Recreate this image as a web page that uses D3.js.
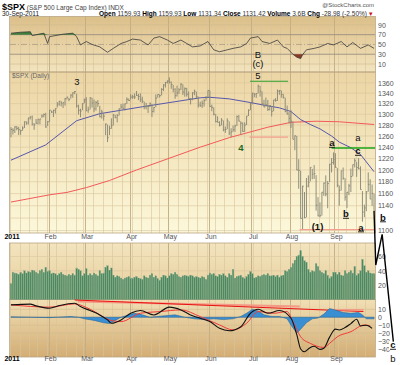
<!DOCTYPE html>
<html>
<head>
<meta charset="utf-8">
<script src="https://cdn.jsdelivr.net/npm/d3@7"></script>
<style>
body { margin: 0; background: #fff; }
svg text { font-family: "Liberation Sans", Arial, sans-serif; }
</style>
</head>
<body>
<div id="chart"></div>
<script>
// trading calendar
var monthNames = ["2011", "Feb", "Mar", "Apr", "May", "Jun", "Jul", "Aug", "Sep"];
var holidays = ["2011-01-17", "2011-02-21", "2011-04-22", "2011-05-30", "2011-07-04", "2011-09-05"];

// daily closes, highs, lows (Jan 3 - Sep 30 2011)
var closes = [
  1271.87,1270.20,1276.56,1273.85,1271.50,1269.75,1274.48,1285.96,1283.76,1293.24,1295.02,1281.92,1280.26,1283.35,1290.84,1291.18,1296.63,1299.54,1276.34,1286.12,
  1307.59,1304.03,1307.10,1310.87,1319.05,1324.57,1320.88,1321.87,1329.15,1332.32,1328.01,1336.32,1340.43,1343.01,1315.44,1307.40,1306.10,1319.88,1327.22,
  1306.33,1308.44,1330.97,1321.15,1310.13,1321.82,1320.02,1295.11,1304.28,1296.39,1281.87,1256.88,1273.72,1279.21,1298.38,1293.77,1297.54,1309.66,1313.80,1310.19,1319.44,1328.26,1325.83,
  1332.41,1332.87,1332.63,1335.54,1333.51,1328.17,1324.46,1314.16,1314.41,1314.52,1319.68,1305.14,1312.62,1330.36,1337.38,1335.25,1347.24,1355.66,1360.48,1363.61,
  1361.22,1356.62,1347.32,1335.10,1340.20,1346.29,1357.16,1342.08,1348.65,1337.77,1329.47,1328.98,1340.68,1343.60,1333.27,1317.37,1316.28,1320.47,1325.69,1331.10,1345.20,
  1314.55,1312.94,1300.16,1286.17,1284.94,1279.56,1289.00,1270.98,1271.83,1287.87,1265.42,1267.64,1271.50,1278.36,1295.52,1287.14,1283.50,1268.45,1280.10,1296.67,1307.41,1320.64,
  1339.67,1337.88,1339.22,1353.22,1343.80,1319.49,1313.64,1317.72,1308.87,1316.14,1305.44,1326.73,1325.84,1343.80,1345.02,1337.43,1331.94,1304.89,1300.67,1292.28,
  1286.94,1254.05,1260.34,1200.07,1199.38,1119.46,1172.53,1120.76,1172.64,1178.81,1204.49,1192.76,1193.89,1140.65,1123.53,1123.82,1162.35,1177.60,1159.27,1176.80,1210.08,1212.92,1218.89,
  1204.42,1173.97,1165.24,1198.62,1185.90,1154.23,1162.27,1172.87,1188.68,1209.11,1216.01,1204.09,1202.09,1166.76,1129.56,1136.43,1162.95,1175.38,1151.06,1160.40,1131.42
];
var highs = [
  1276.2,1274.1,1277.6,1278.2,1276.8,1271.5,1277.6,1286.6,1286.7,1293.3,1296.1,1297.5,1283.3,1291.0,1291.3,1291.3,1299.7,1301.3,1302.7,1287.2,
  1308.0,1306.7,1308.6,1311.0,1322.9,1324.9,1324.6,1322.0,1330.8,1332.9,1330.6,1337.6,1341.5,1344.1,1338.9,1317.9,1310.3,1320.6,1329.4,
  1332.3,1314.4,1332.3,1331.1,1327.7,1325.0,1326.8,1315.7,1308.3,1301.5,1282.8,1280.9,1278.7,1292.4,1300.6,1298.8,1300.2,1311.3,1319.2,1320.0,1320.1,1331.7,1329.8,
  1337.9,1336.7,1339.5,1344.1,1338.8,1339.5,1333.2,1323.7,1321.4,1316.8,1322.2,1319.1,1313.8,1337.5,1337.5,1337.6,1349.6,1357.3,1361.7,1364.6,
  1370.6,1362.6,1355.7,1349.6,1354.4,1349.4,1359.4,1357.2,1351.1,1350.2,1343.3,1330.4,1341.6,1346.8,1342.8,1333.3,1323.7,1325.9,1328.5,1334.6,1345.4,
  1345.2,1318.0,1312.9,1300.3,1296.2,1287.0,1292.7,1288.3,1277.3,1292.5,1286.8,1274.1,1279.0,1280.4,1297.6,1298.6,1286.8,1284.9,1284.9,1296.7,1309.2,1321.9,
  1341.0,1340.0,1340.1,1356.5,1354.0,1343.3,1327.2,1331.5,1327.0,1317.2,1315.5,1327.2,1330.4,1347.0,1346.1,1344.9,1338.5,1331.2,1316.3,1304.0,
  1307.4,1286.6,1261.0,1260.1,1218.7,1198.7,1172.9,1162.6,1186.3,1190.7,1204.5,1201.9,1208.5,1191.1,1154.1,1145.5,1162.4,1178.5,1190.7,1181.2,1210.3,1220.7,1230.7,
  1229.3,1203.3,1173.5,1198.7,1204.2,1185.9,1162.6,1176.4,1202.4,1209.2,1220.1,1213.9,1220.4,1206.3,1164.2,1141.7,1164.2,1195.9,1184.2,1175.3,1159.9
];
var lows = [
  1257.6,1262.7,1265.4,1270.4,1261.7,1262.2,1269.6,1274.5,1280.5,1281.1,1290.2,1279.0,1271.3,1282.1,1281.1,1281.1,1293.2,1294.4,1275.1,1278.2,
  1286.2,1302.6,1294.8,1301.4,1312.8,1316.0,1314.9,1311.7,1316.1,1328.0,1324.6,1329.5,1331.1,1338.1,1312.3,1299.3,1294.3,1307.6,1320.6,
  1305.9,1302.6,1309.1,1312.6,1303.9,1306.9,1314.0,1294.3,1291.9,1288.1,1261.6,1249.1,1261.6,1273.2,1279.2,1292.6,1284.8,1297.7,1309.8,1309.4,1306.9,1319.4,1325.0,
  1328.1,1329.1,1328.7,1334.5,1326.6,1322.9,1321.1,1309.4,1309.2,1302.4,1313.6,1294.7,1303.2,1313.4,1331.2,1331.5,1335.7,1344.0,1350.9,1358.7,
  1358.6,1348.3,1341.5,1329.2,1333.4,1338.6,1346.2,1336.4,1333.2,1333.3,1327.3,1318.5,1326.3,1336.1,1330.1,1312.6,1313.9,1311.8,1314.3,1325.7,1331.5,
  1313.7,1305.6,1297.9,1284.9,1284.7,1277.4,1279.6,1268.6,1265.6,1272.5,1261.9,1258.1,1267.6,1267.6,1278.4,1286.8,1262.7,1267.5,1267.5,1280.1,1296.7,1307.6,
  1318.5,1332.0,1330.9,1339.6,1333.4,1316.4,1313.3,1314.6,1306.1,1307.1,1295.9,1305.6,1323.7,1325.1,1336.9,1331.1,1329.6,1303.9,1299.2,1282.9,
  1274.7,1254.0,1234.6,1199.5,1168.1,1119.3,1101.5,1119.6,1121.1,1170.5,1180.5,1184.1,1184.7,1132.0,1122.7,1121.1,1124.0,1156.3,1155.5,1135.9,1179.4,1195.8,1209.4,
  1203.9,1170.6,1140.1,1165.3,1183.3,1148.4,1136.1,1157.4,1162.7,1189.1,1204.5,1188.2,1201.3,1166.7,1114.2,1121.4,1131.1,1163.1,1150.9,1139.8,1131.3
];
// volume, 100M shares
var volumes = [
  22,38,37,36,35,38,36,40,37,39,38,41,40,38,36,40,42,38,45,39,
  40,36,37,36,34,36,38,35,34,33,35,34,36,34,44,42,40,33,36,
  43,34,36,34,37,35,33,40,36,37,45,47,41,44,34,31,33,32,30,28,30,31,32,
  30,29,31,32,30,29,28,33,31,30,34,36,31,33,29,27,31,34,33,30,
  33,36,35,38,35,32,31,33,34,33,32,34,33,31,32,31,30,32,31,28,34,
  37,35,36,33,32,35,34,36,33,31,36,34,42,30,32,33,34,31,29,32,35,39,
  36,30,31,33,32,34,35,34,36,33,33,34,32,34,31,33,34,40,39,42,
  45,50,55,60,62,68,60,54,52,42,38,40,39,50,46,40,38,36,40,34,30,32,38,
  38,35,38,34,33,40,36,38,40,37,46,34,36,40,56,47,38,40,37,36,36
];

// moving averages (day index, value)
var ma50Idx = [0, 18, 34, 46, 68, 98, 103, 113, 124, 134, 139, 145, 150, 155, 160, 166, 170, 176, 181, 188];
var ma50 = [1217, 1244, 1288, 1301, 1314, 1331, 1332, 1329, 1322, 1315, 1312, 1305, 1290, 1281, 1273, 1260, 1249, 1239, 1227, 1197];
var ma200Idx = [0, 20, 29, 39, 51, 65, 98, 113, 133, 145, 158, 170, 188];
var ma200 = [1146, 1158, 1162, 1170, 1182, 1200, 1240, 1257, 1276, 1285, 1287, 1286, 1281];

// RSI(14)
var rsiIdx = [0,5,10,11,17,19,20,27,32,34,36,39,42,46,50,53,57,60,63,67,71,74,77,81,84,88,91,94,98,102,105,108,112,115,119,122,124,128,130,134,138,141,143,146,148,150,151,153,157,160,164,167,171,174,177,181,185,188];
var rsi = [73,75,76,68,73,52,66,71,73,66,49,56,50,45,34,42,52,56,61,59,49,63,66,59,52,59,52,45,47,56,39,35,39,42,45,52,63,66,56,52,59,45,42,30,24,21,29,39,42,45,52,49,56,45,54,42,49,42];

// MACD(12,26,9)
var macdIdx = [0,10,13,20,25,33,36,41,46,50,52,57,62,67,74,82,88,93,98,103,108,113,119,124,128,133,139,145,148,150,152,155,157,160,162,165,168,170,173,176,179,181,184,187];
var macd = [15.6,16.5,14.3,11.4,14.7,17.7,13.4,8.4,2.9,-3.4,-7.6,-3.4,5,8.4,2.9,12.7,9.2,2.9,-1.3,-5.5,-14,-17,-11.9,5,10.1,5,8.4,-1.3,-22,-40,-43.5,-38,-36.5,-40.5,-39,-25,-15,-16,-13,-8,-2.5,-11,-10,-14];
var signalIdx = [0,20,33,41,51,57,67,77,88,98,108,115,122,128,136,143,146,150,155,162,165,169,176,183,186];
var signal = [15.6,12.7,16.8,10.1,-3.4,-5.5,5,7.1,9.2,0.8,-9.7,-16,-7.6,7.1,5,7.1,-5.5,-24.6,-32.9,-38,-32.9,-24.6,-18.2,-9.7,-11];
var histIdx = [0,20,31,35,38,43,48,51,54,57,61,64,68,72,80,85,90,95,100,105,110,115,119,122,125,128,131,135,139,143,145,148,150,153,156,159,162,165,168,172,176,180,182,184,188];
var hist = [0.5,-0.5,1,0,-2,-4,-7,-8,-4,0,3,5,3,0,2,3,0,-2,-3,-2,-3,-2,1,5,10,8,3,1,1,-2,-10,-20,-15,-7,-2,-1,4,11,9,6,5,6,3,-2,-2];

// analyst's projected path beyond the last bar (day index, price)
var projIdx = [188.5, 189.4, 192.7, 198.5];
var projPrice = [1131.4, 1047, 1094, 938];

var priceTicks = [1360, 1340, 1320, 1300, 1280, 1260, 1240, 1220, 1200, 1180, 1160, 1140, 1100];
var rsiTicks = [90, 70, 50, 30, 10];
var volTicks = [60, 40, 20];
var macdTicks = [10, 0, -10, -20, -30, -40];

// build the trading days
var days = [];
for (var t = Date.UTC(2011, 0, 3); t <= Date.UTC(2011, 8, 30); t += 864e5) {
  var dd = new Date(t);
  var wd = dd.getUTCDay();
  if (wd > 0 && wd < 6 && holidays.indexOf(dd.toISOString().slice(0, 10)) < 0) days.push(dd);
}
var monthStarts = [], weekStarts = [];
days.forEach(function (d, i) {
  if (i === 0 || d.getUTCMonth() !== days[i - 1].getUTCMonth()) monthStarts.push(i);
  if (i === 0 || d.getUTCDay() < days[i - 1].getUTCDay()) weekStarts.push(i);
});

var svg = d3.select("#chart").append("svg")
  .attr("width", 400)
  .attr("height", 365);

var L = 10, R = 375;
var x = d3.scaleLinear().domain([0, days.length]).range([L, R]);
var yP = d3.scaleLog().domain([1100, 1360]).range([230.6, 82.8]);
var yR = d3.scaleLinear().domain([10, 90]).range([64, 24.9]);
var yV = d3.scaleLinear().domain([0, 60]).range([299.5, 256.5]);
var yM = d3.scaleLinear().domain([-40, 10]).range([349, 309.3]);

var panels = [
  { id: "rsiBg", top: 16.5, bottom: 72, c0: "#dcbf88", c1: "#f3e4bf" },
  { id: "priceBg", top: 72, bottom: 233, c0: "#ecd5a4", c1: "#fcf8da" },
  { id: "volBg", top: 243, bottom: 299.5, c0: "#f3e4bf", c1: "#e6cd9a" },
  { id: "macdBg", top: 299.5, bottom: 357, c0: "#f1dfb4", c1: "#d3ad74" }
];

var defs = svg.append("defs");
panels.forEach(function (p) {
  var g = defs.append("linearGradient").attr("id", p.id)
    .attr("x1", 0).attr("y1", 0).attr("x2", 0).attr("y2", 1);
  g.append("stop").attr("offset", "0%").attr("stop-color", p.c0);
  g.append("stop").attr("offset", "100%").attr("stop-color", p.c1);
  svg.append("rect")
    .attr("x", L).attr("y", p.top)
    .attr("width", R - L).attr("height", p.bottom - p.top)
    .attr("fill", "url(#" + p.id + ")");
});

// vertical grid for each panel
panels.forEach(function (p) {
  svg.append("g").selectAll("line")
    .data(weekStarts)
    .enter().append("line")
    .attr("x1", d => Math.round(x(d)) + 0.5).attr("x2", d => Math.round(x(d)) + 0.5)
    .attr("y1", p.top).attr("y2", p.bottom)
    .attr("stroke", monthStarts.indexOf(0) >= 0 ? "#d9c59c" : "#d9c59c")
    .attr("stroke-width", 0.6);
  svg.append("g").selectAll("line")
    .data(monthStarts.slice(1))
    .enter().append("line")
    .attr("x1", d => Math.round(x(d)) + 0.5).attr("x2", d => Math.round(x(d)) + 0.5)
    .attr("y1", p.top).attr("y2", p.bottom)
    .attr("stroke", "#c2ab82")
    .attr("stroke-width", 0.9);
});

// horizontal grids
svg.append("g").selectAll("line")
  .data(d3.range(1100, 1361, 20))
  .enter().append("line")
  .attr("x1", L).attr("x2", R)
  .attr("y1", d => yP(d)).attr("y2", d => yP(d))
  .attr("stroke", "#d8c49c").attr("stroke-width", 0.6);
svg.append("g").selectAll("line")
  .data([90, 10])
  .enter().append("line")
  .attr("x1", L).attr("x2", R)
  .attr("y1", d => yR(d)).attr("y2", d => yR(d))
  .attr("stroke", "#cfb98f").attr("stroke-width", 0.6);
svg.append("g").selectAll("line")
  .data([70, 30])
  .enter().append("line")
  .attr("x1", L).attr("x2", R)
  .attr("y1", d => yR(d)).attr("y2", d => yR(d))
  .attr("stroke", "#9a9080").attr("stroke-width", 0.9);
svg.append("line")
  .attr("x1", L).attr("x2", R)
  .attr("y1", yR(50)).attr("y2", yR(50))
  .attr("stroke", "#a09682").attr("stroke-width", 0.7)
  .attr("stroke-dasharray", "6,2,1,2");
svg.append("g").selectAll("line")
  .data(volTicks)
  .enter().append("line")
  .attr("x1", L).attr("x2", R)
  .attr("y1", d => yV(d)).attr("y2", d => yV(d))
  .attr("stroke", "#dbc79f").attr("stroke-width", 0.6);
svg.append("g").selectAll("line")
  .data(macdTicks)
  .enter().append("line")
  .attr("x1", L).attr("x2", R)
  .attr("y1", d => yM(d)).attr("y2", d => yM(d))
  .attr("stroke", "#d2bb8f").attr("stroke-width", 0.6);

// panel borders
panels.forEach(function (p) {
  svg.append("rect")
    .attr("x", L - 0.5).attr("y", p.top)
    .attr("width", R - L + 1).attr("height", p.bottom - p.top)
    .attr("fill", "none").attr("stroke", "#b9a683").attr("stroke-width", 0.8);
});

// RSI
var rsiPts = rsiIdx.map((d, i) => [d, rsi[i]]);
svg.append("path")
  .datum(rsiPts)
  .attr("fill", "#3f7f3a")
  .attr("d", d3.area().x(d => x(d[0] + 0.5)).y0(yR(70)).y1(d => yR(Math.max(d[1], 70))));
svg.append("path")
  .datum(rsiPts)
  .attr("fill", "#8a3b26")
  .attr("d", d3.area().x(d => x(d[0] + 0.5)).y0(yR(30)).y1(d => yR(Math.min(d[1], 30))));
svg.append("path")
  .datum(rsiPts)
  .attr("fill", "none").attr("stroke", "#3a3a3a").attr("stroke-width", 0.8)
  .attr("d", d3.line().x(d => x(d[0] + 0.5)).y(d => yR(d[1])));

// Price panel: moving averages
svg.append("path")
  .datum(ma200Idx.map((d, i) => [d, ma200[i]]))
  .attr("fill", "none").attr("stroke", "#f25a5a").attr("stroke-width", 1)
  .attr("d", d3.line().x(d => x(d[0] + 0.5)).y(d => yP(d[1])));
svg.append("path")
  .datum(ma50Idx.map((d, i) => [d, ma50[i]]))
  .attr("fill", "none").attr("stroke", "#5757ac").attr("stroke-width", 1)
  .attr("d", d3.line().x(d => x(d[0] + 0.5)).y(d => yP(d[1])));

// annotation levels
var levels = [
  { a: 124, b: 144, p: 1258, c: "#f4a08e", w: 1.2 },
  { a: 150, b: 188.5, p: 1101.5, c: "#f4a08e", w: 1.2 },
  { a: 124.3, b: 144, p: 1363, c: "#2ca02c", w: 1.2 },
  { a: 166.5, b: 189, p: 1238.5, c: "#1aa51a", w: 1.4 }
];

// OHLC bars
var bars = svg.append("g");
bars.selectAll("line.hl")
  .data(closes)
  .enter().append("line")
  .attr("x1", (d, i) => x(i + 0.5)).attr("x2", (d, i) => x(i + 0.5))
  .attr("y1", (d, i) => yP(highs[i])).attr("y2", (d, i) => yP(lows[i]))
  .attr("stroke", "#858574").attr("stroke-width", 0.9);
bars.selectAll("line.c")
  .data(closes)
  .enter().append("line")
  .attr("x1", (d, i) => x(i + 0.5)).attr("x2", (d, i) => x(i + 0.5) + 1.2)
  .attr("y1", d => yP(d)).attr("y2", d => yP(d))
  .attr("stroke", "#858574").attr("stroke-width", 0.9);

svg.append("g").selectAll("line")
  .data(levels)
  .enter().append("line")
  .attr("x1", d => x(d.a)).attr("x2", d => x(d.b))
  .attr("y1", d => yP(d.p)).attr("y2", d => yP(d.p))
  .attr("stroke", d => d.c).attr("stroke-width", d => d.w);

// Volume
svg.append("g").selectAll("rect")
  .data(volumes)
  .enter().append("rect")
  .attr("x", (d, i) => x(i) + 0.2)
  .attr("width", 1.55)
  .attr("y", d => yV(d))
  .attr("height", d => yV(0) - yV(d))
  .attr("fill", "#4a8a60")
  .attr("stroke", "#7fa68a").attr("stroke-width", 0.3);

// MACD
svg.append("line")
  .attr("x1", x(35)).attr("x2", x(150))
  .attr("y1", 301.5).attr("y2", 306.5)
  .attr("stroke", "#f39a86").attr("stroke-width", 2);
svg.append("line")
  .attr("x1", x(33.5)).attr("x2", x(183))
  .attr("y1", 300).attr("y2", 311.5)
  .attr("stroke", "#e81010").attr("stroke-width", 1.2);
svg.append("line")
  .attr("x1", x(168)).attr("x2", x(183))
  .attr("y1", 309.8).attr("y2", 309.8)
  .attr("stroke", "#f39a86").attr("stroke-width", 1.5);

var histPts = histIdx.map((d, i) => [d, hist[i]]);
svg.append("path")
  .datum(histPts)
  .attr("fill", "#3a8fd2").attr("stroke", "#1d5d92").attr("stroke-width", 0.5)
  .attr("d", d3.area().x(d => x(d[0] + 0.5)).y0(yM(0)).y1(d => yM(d[1])));
svg.append("path")
  .datum(signalIdx.map((d, i) => [d, signal[i]]))
  .attr("fill", "none").attr("stroke", "#f03a3a").attr("stroke-width", 1)
  .attr("d", d3.line().curve(d3.curveMonotoneX).x(d => x(d[0] + 0.5)).y(d => yM(d[1])));
svg.append("path")
  .datum(macdIdx.map((d, i) => [d, macd[i]]))
  .attr("fill", "none").attr("stroke", "#111").attr("stroke-width", 1.1)
  .attr("d", d3.line().curve(d3.curveMonotoneX).x(d => x(d[0] + 0.5)).y(d => yM(d[1])));

// axes on the right
function rightAxis(scale, ticks) {
  var g = svg.append("g")
    .attr("transform", "translate(" + (R + 1) + ",0)")
    .call(d3.axisRight(scale).tickValues(ticks).tickSize(0).tickPadding(2).tickFormat(d3.format("d")));
  g.select(".domain").remove();
  g.selectAll("text").attr("font-size", 7).attr("fill", "#555")
    .attr("font-family", "Liberation Sans, Arial, sans-serif");
}
rightAxis(yR, rsiTicks);
rightAxis(yP, priceTicks);
rightAxis(yV, volTicks);
rightAxis(yM, macdTicks);

// month labels
[240.5, 362].forEach(function (yy) {
  var g = svg.append("g")
    .attr("transform", "translate(1.5," + (yy - 6) + ")")
    .call(d3.axisBottom(x).tickValues(monthStarts).tickSize(0).tickPadding(0)
      .tickFormat((d, i) => monthNames[i]));
  g.select(".domain").remove();
  g.selectAll("text").attr("font-size", 7).attr("fill", "#555")
    .attr("font-family", "Liberation Sans, Arial, sans-serif")
    .attr("dy", "0.71em")
    .filter((d, i) => i === 0)
    .attr("fill", "#000").attr("font-weight", "bold");
});

// header
var head = svg.append("text").attr("x", 2).attr("y", 9.5);
head.append("tspan").attr("font-size", 9).attr("font-weight", "bold").text("$SPX");
head.append("tspan").attr("font-size", 6.5).attr("fill", "#444").text(" (S&P 500 Large Cap Index) INDX");
svg.append("text").attr("x", 374).attr("y", 7).attr("text-anchor", "end")
  .attr("font-size", 6).attr("fill", "#555").text("@StockCharts.com");
svg.append("text").attr("x", 2).attr("y", 16).attr("font-size", 6.5).attr("fill", "#222").text("30-Sep-2011");

var quote = svg.append("text").attr("x", 99).attr("y", 16).attr("font-size", 6.5).attr("fill", "#333");
[["Open", " 1159.93 "], ["High", " 1159.93 "], ["Low", " 1131.34 "], ["Close", " 1131.42 "],
 ["Volume", " 3.6B "], ["Chg", " -28.98 (-2.50%) "]].forEach(function (q) {
  quote.append("tspan").attr("font-weight", "bold").attr("fill", "#000").text(q[0]);
  quote.append("tspan").text(q[1]);
});
quote.append("tspan").attr("fill", "#d01010").text("▾");

svg.append("text").attr("x", 12).attr("y", 77.5).attr("font-size", 6.5).attr("fill", "#666").text("$SPX (Daily)");

// wave labels
var labels = [
  { t: "3", x: 77, y: 85 },
  { t: "B", x: 258, y: 57.5 },
  { t: "(c)", x: 258, y: 67 },
  { t: "5", x: 258, y: 78.5 },
  { t: "4", x: 241, y: 151, c: "#1e6a1e", b: true },
  { t: "a", x: 332, y: 146, u: true },
  { t: "a", x: 358, y: 141 },
  { t: "c", x: 358, y: 154, u: true },
  { t: "b", x: 346, y: 217, u: true },
  { t: "(1)", x: 317.5, y: 230, b: true },
  { t: "a", x: 361, y: 230.5, u: true },
  { t: "b", x: 383, y: 220.5, u: true },
  { t: "c", x: 393, y: 348, u: true },
  { t: "b", x: 393, y: 361.5 }
];
labels.forEach(function (l) {
  if (l.u) {
    svg.append("rect").attr("x", l.x - 4).attr("y", l.y - 7).attr("width", 8).attr("height", 9)
      .attr("fill", l.x > R ? "#fff" : "none");
  }
  svg.append("text")
    .attr("x", l.x).attr("y", l.y)
    .attr("text-anchor", "middle")
    .attr("font-size", 9.5)
    .attr("font-weight", l.b || l.u ? "bold" : "normal")
    .attr("fill", l.c || "#111")
    .text(l.t);
  if (l.u) {
    svg.append("line")
      .attr("x1", l.x - 3).attr("x2", l.x + 3)
      .attr("y1", l.y + 1.3).attr("y2", l.y + 1.3)
      .attr("stroke", "#111").attr("stroke-width", 0.9);
  }
});

// projected path
svg.append("path")
  .datum(projIdx.map((d, i) => [d, projPrice[i]]))
  .attr("fill", "none").attr("stroke", "#000").attr("stroke-width", 1.4)
  .attr("d", d3.line().x(d => x(d[0])).y(d => yP(d[1])));
</script>
</body>
</html>
